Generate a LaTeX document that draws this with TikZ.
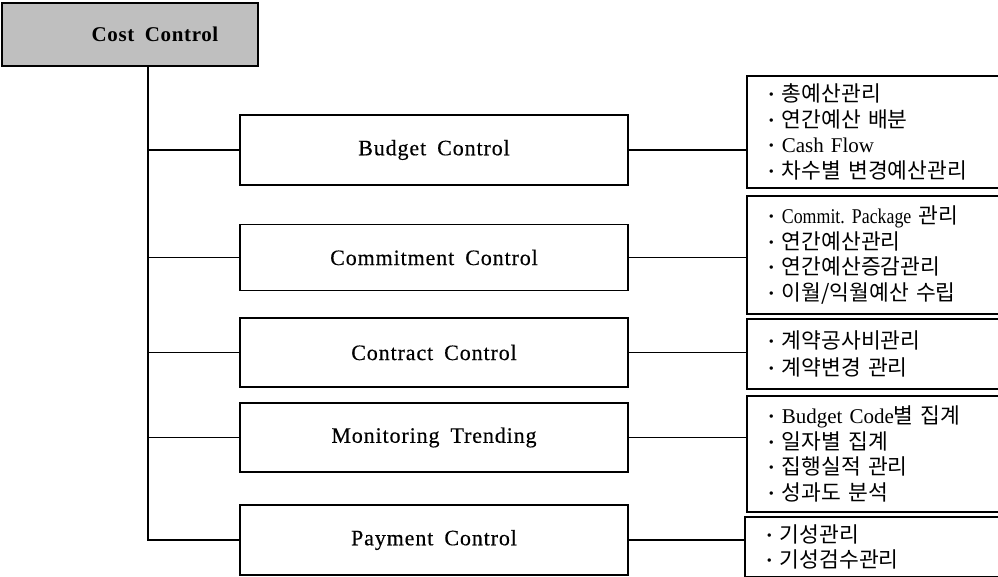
\documentclass[tikz,border=0pt]{standalone}
\usepackage{fontspec}
\setmainfont{Liberation Serif}
\newfontfamily\krfont{Noto Sans CJK KR}
\newfontfamily\spacedfont{Liberation Serif}[LetterSpace=4,FakeBold=0.4]
\newfontfamily\rootfont{Liberation Serif}[LetterSpace=3]
\newfontfamily\narrowfont{Liberation Serif}[FakeStretch=0.85]
\newcommand\kr[1]{{\krfont\fontsize{21.5}{25.5}\selectfont #1}}
\newcommand\bul{{\bfseries ·}\hspace{7pt}}

\begin{document}
\begin{tikzpicture}[x=1pt,y=-1pt,
  link/.style={line width=1.6pt},
  topbox/.style={draw, line width=1.8pt, fill=black!25, minimum width=256pt,
    minimum height=63pt, inner sep=0pt,
    font=\rootfont\bfseries\fontsize{21}{25}\selectfont},
  midbox/.style={draw, line width=1.8pt, minimum width=388pt, inner sep=0pt,
    font=\spacedfont\fontsize{22}{26}\selectfont},
  listbox/.style={draw, line width=1.8pt, anchor=north west, text width=250pt,
    align=left, inner xsep=21pt, inner ysep=0pt,
    font=\fontsize{21}{25.5}\selectfont}]
\useasboundingbox (0,0) rectangle (998,576);
\clip (0,0) rectangle (998,576);

% root
\node[topbox] (cost) at (130,34.5) {\hspace{50pt}Cost\enspace Control};
\path (cost.south west) ++(147,0) coordinate (trunktop);

% second level
\node[midbox, minimum height=70pt] (budget)   at (434,150)   {Budget\enspace Control};
\node[midbox, minimum height=66pt] (commit)   at (434,257.5) {Commitment\enspace Control};
\node[midbox, minimum height=69pt] (contract) at (434,352.5) {Contract\enspace Control};
\node[midbox, minimum height=69pt] (monitor)  at (434,437.5) {Monitoring\enspace Trending};
\node[midbox, minimum height=70pt] (payment)  at (434,540)   {Payment\enspace Control};

% task lists
\node[listbox, minimum height=112pt] (budgetR) at (746,75) {%
  \bul\kr{총예산관리}\\
  \bul\kr{연간예산 배분}\\
  \bul Cash Flow\\
  \bul\kr{차수별 변경예산관리}};
\node[listbox, minimum height=118pt] (commitR) at (746,195) {%
  \bul{\narrowfont Commit.\ Package} \kr{관리}\\
  \bul\kr{연간예산관리}\\
  \bul\kr{연간예산증감관리}\\
  \bul\kr{이월/익월예산 수립}};
\node[listbox, minimum height=70pt] (contractR) at (746,318) {%
  \bul\kr{계약공사비관리}\\[2pt]
  \bul\kr{계약변경 관리}};
\node[listbox, minimum height=116pt] (monitorR) at (746,395) {%
  \bul Budget Code\kr{별 집계}\\
  \bul\kr{일자별 집계}\\
  \bul\kr{집행실적 관리}\\
  \bul\kr{성과도 분석}};
\node[listbox, minimum height=60pt] (paymentR) at (744,516) {%
  \bul\kr{기성관리}\\
  \bul\kr{기성검수관리}};

% trunk and branches
\draw[link] (trunktop) |- (payment.west);
\foreach \n in {budget,commit,contract,monitor}
  \draw[link] (trunktop |- \n.west) -- (\n.west);
\foreach \n in {budget,commit,contract,monitor,payment}
  \draw[link] (\n.east) -- (\n.east -| \n R.west);
\end{tikzpicture}
\end{document}
